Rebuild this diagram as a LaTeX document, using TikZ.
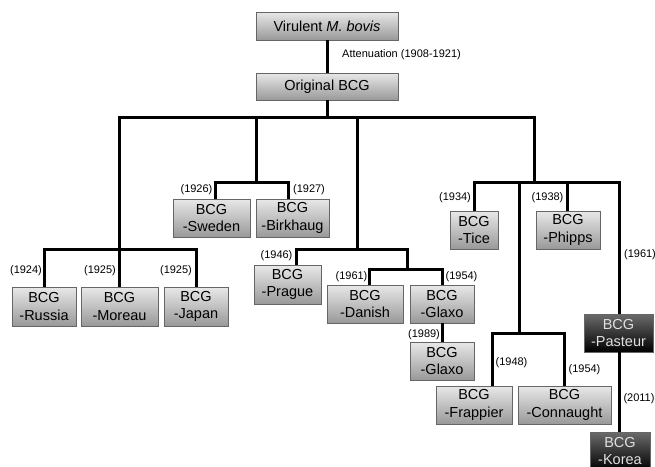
\documentclass[tikz,border=0pt]{standalone}
\usepackage{fontspec}
\setmainfont{Liberation Sans}
\begin{document}
\begin{tikzpicture}[x=1pt,y=-1pt,
  box/.style={draw=black!60, line width=0.7pt, top color=black!9, bottom color=black!40,
    font=\fontsize{14.5}{17.5}\selectfont, align=center, inner sep=0pt, text=black,
    minimum height=38pt},
  dbox/.style={box, top color=black!58, bottom color=black, text=black!12},
  tree/.style={line width=3pt, black},
  yr/.style={font=\fontsize{11}{13}\selectfont, inner sep=0pt}]
\useasboundingbox (0,0) rectangle (655,466);
\clip (0,0) rectangle (655,466);

% boxes
\node[box, minimum width=142pt, minimum height=28pt] (vir) at (327,26) {Virulent \textit{M. bovis}};
\node[box, minimum width=142pt, minimum height=27pt] (orig) at (327,86.5) {Original BCG};
\node[box, minimum width=77pt] (sweden) at (211.5,218) {BCG\\-Sweden};
\node[box, minimum width=73pt] (birk) at (292.5,218) {BCG\\-Birkhaug};
\node[box, minimum width=64pt, minimum height=39pt] (russia) at (44,306.5) {BCG\\-Russia};
\node[box, minimum width=77pt, minimum height=39pt] (moreau) at (119.5,306.5) {BCG\\-Moreau};
\node[box, minimum width=64pt, minimum height=39pt] (japan) at (196,306.5) {BCG\\-Japan};
\node[box, minimum width=67pt, minimum height=39pt] (prague) at (287.5,284.5) {BCG\\-Prague};
\node[box, minimum width=76pt] (danish) at (365,304) {BCG\\-Danish};
\node[box, minimum width=64pt] (glaxo) at (442,304) {BCG\\-Glaxo};
\node[box, minimum width=64pt] (glaxo2) at (442,361) {BCG\\-Glaxo};
\node[box, minimum width=48pt] (tice) at (474,230) {BCG\\-Tice};
\node[box, minimum width=64pt] (phipps) at (568,230) {BCG\\-Phipps};
\node[dbox, minimum width=69pt] (pasteur) at (618.5,333) {BCG\\-Pasteur};
\node[dbox, minimum width=60pt] (korea) at (620,451) {BCG\\-Korea};
\node[box, minimum width=76pt] (frappier) at (474,405) {BCG\\-Frappier};
\node[box, minimum width=93pt] (connaught) at (564.5,405) {BCG\\-Connaught};

% junction coordinates
\coordinate (b0R) at (534,117);
\coordinate (jL) at (119,249);
\coordinate (tS) at (256,117);
\coordinate (jS) at (256,182);
\coordinate (tM) at (357,117);
\coordinate (jM) at (357,249);
\coordinate (jG) at (407,249);
\coordinate (jG2) at (407,269);
\coordinate (jR) at (534,182);
\coordinate (jF) at (519,333);

% connectors
\draw[tree] (vir) -- (orig);
\draw[tree] (orig.south) -- (orig.south |- b0R);
\draw[tree] (moreau.north) |- (b0R) -- (jR);
\draw[tree] (russia.north) |- (jL) -| (japan.north);
\draw[tree] (tS) -- (jS);
\draw[tree] ([xshift=3.5pt]sweden.north) |- (jS) -| ([xshift=-4.5pt]birk.north);
\draw[tree] (tM) -- (jM);
\draw[tree] ([xshift=8.5pt]prague.north) |- (jG) -- (jG2);
\draw[tree] ([xshift=4pt]danish.north) |- (jG2) -| (glaxo.north);
\draw[tree] (glaxo) -- (glaxo2);
\draw[tree] (tice.north) |- (jR) -| ([xshift=0.5pt]pasteur.north);
\draw[tree] ([xshift=-1pt]phipps.north) -- ([xshift=-1pt]phipps.north |- jR);
\draw[tree] (jF |- jR) -- (jF);
\draw[tree] ([xshift=18pt]frappier.north) |- (jF) -| (connaught.north);
\draw[tree] ([xshift=0.5pt]pasteur.south) -- ([xshift=0.5pt]pasteur.south |- korea.north);

% labels
\node[yr, anchor=west] (att) at (342,55) {Attenuation (1908-1921)};
\node[yr] (y1926) at (196.5,190) {(1926)};
\node[yr] (y1927) at (309,190) {(1927)};
\node[yr] (y1924) at (26,271) {(1924)};
\node[yr] (y1925a) at (100,271) {(1925)};
\node[yr] (y1925b) at (176,271) {(1925)};
\node[yr] (y1946) at (276.5,256) {(1946)};
\node[yr] (y1961a) at (351.5,277) {(1961)};
\node[yr] (y1954a) at (461.5,277) {(1954)};
\node[yr] (y1989) at (424,335) {(1989)};
\node[yr] (y1934) at (455,198) {(1934)};
\node[yr] (y1938) at (547.5,198) {(1938)};
\node[yr] (y1961b) at (640,255) {(1961)};
\node[yr] (y1948) at (511.5,363) {(1948)};
\node[yr] (y1954b) at (584.5,370) {(1954)};
\node[yr] (y2011) at (639,399) {(2011)};
\end{tikzpicture}
\end{document}
